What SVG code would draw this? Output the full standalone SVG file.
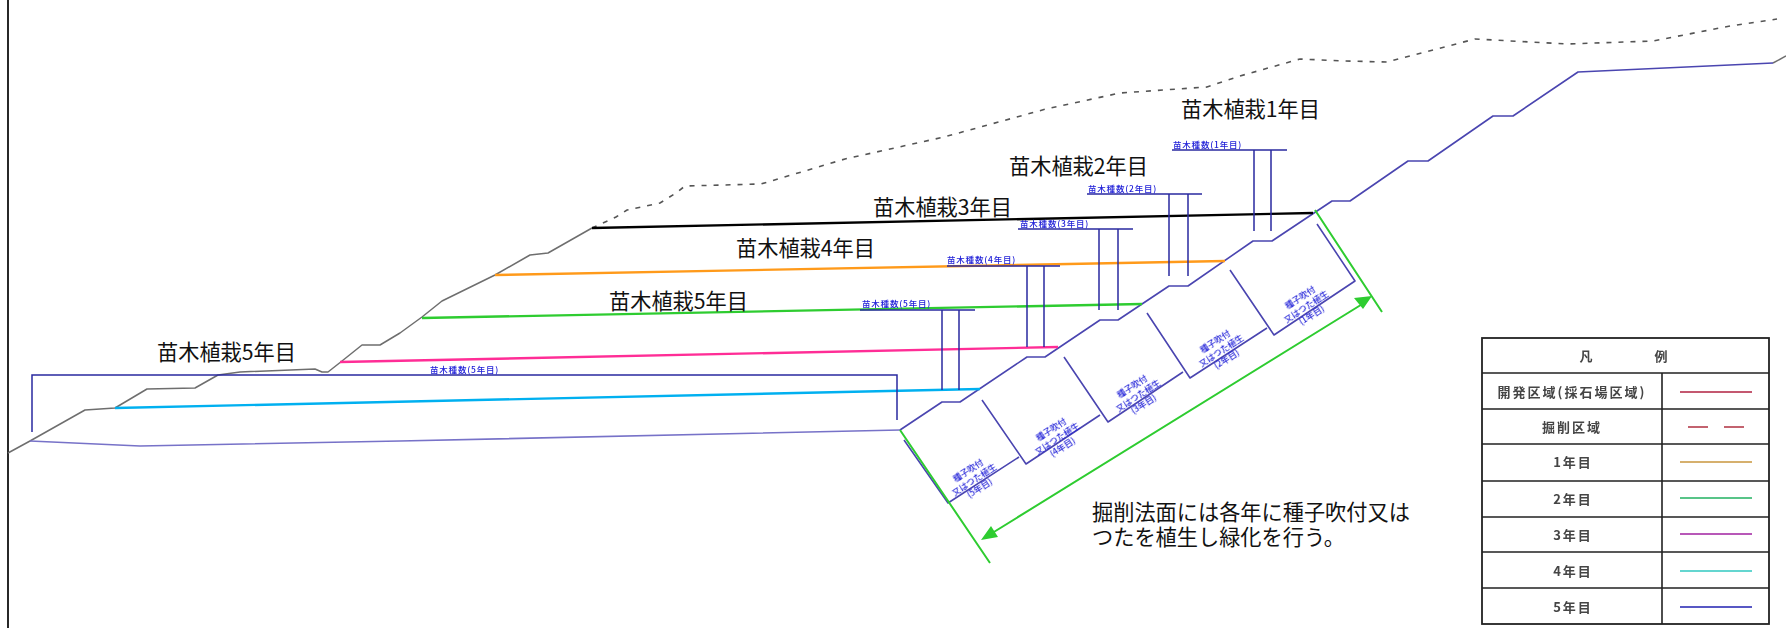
<svg xmlns="http://www.w3.org/2000/svg" width="1786" height="628" viewBox="0 0 1786 628">
<defs><filter id="soft" x="-5%" y="-20%" width="110%" height="140%"><feGaussianBlur stdDeviation="0.35"/></filter></defs>
<style>
text{font-family:"Noto Sans CJK JP","Liberation Sans",sans-serif}
.l{fill:#111;font-size:21.2px}
.s{fill:#2020d8;font-size:8.5px;letter-spacing:.8px;font-weight:500;filter:url(#soft)}
.r{fill:#2020d8;font-size:8.5px;text-anchor:middle;font-weight:500;filter:url(#soft)}
.g{fill:none;stroke:#6e6e6e;stroke-width:1.5;stroke-linejoin:round}
.d{fill:none;stroke:#555;stroke-width:1.6;stroke-dasharray:5 7}
.b{fill:none;stroke:#4a45b0;stroke-width:1.6;stroke-linejoin:round}
.p{fill:none;stroke:#7772c8;stroke-width:1.6;stroke-linejoin:round}
.n{fill:none;stroke:#2a2aa0;stroke-width:1.5}
.y{fill:none;stroke-width:2.4}
.gr{fill:none;stroke:#2ecc30;stroke-width:2}
.k{fill:none;stroke:#111;stroke-width:1.8}
.t{fill:#444;font-size:13px;text-anchor:middle;font-weight:700;letter-spacing:2px;filter:url(#soft)}
.m{fill:none;stroke-width:1.6}
</style>
<rect width="1786" height="628" fill="#fff"/>
<g id="frame"><path class="k" d="M8 0V628"/></g>
<g id="terrain">
<path class="g" d="M8 453L30 441L85 410L115 408L147 389L195 388L218 375L240 372L315 369L322 372L328 372L342 361L362 345L380 345L400 333L422 317L442 301L495 275L530 255L548 253L592 228"/>
<path class="d" d="M592 228L616 217L627 210L660 203L676 193L685 186L761 184L845 159L944 137L1046 109L1120 93L1207 87L1240 76L1300 59L1345 61L1387 62L1475 39L1567 44L1653 41L1730 26L1777 19"/>
<path class="g" d="M1773 63L1786 56"/>
</g>
<g id="excavation">
<path class="p" d="M30 441L140 446L400 441L900 430"/>
<path class="b" d="M900 430L942 402L960 402L1027 357L1045 357L1100 320L1118 320L1169 286L1188 286L1253 241L1272 241L1332 201L1350 201L1408 161L1428 161L1493 116L1513 116L1578 72L1773 63"/>
<path class="b" d="M904 440L948 503L1019 457M982 400L1026 464L1100 415M1064 357L1108 422L1183 372M1147 313L1190 378L1267 328M1230 270L1274 335L1355 281L1317 224"/>
</g>
<g id="planting-lines">
<path class="y" stroke="#00b0f0" d="M115 408L980 389"/>
<path class="y" stroke="#ff2d96" d="M340 362L1058 347"/>
<path class="y" stroke="#2ecc30" d="M422 318L1142 304"/>
<path class="y" stroke="#ff9a1a" d="M495 275L1225 261"/>
<path class="y" stroke="#000" d="M592 228L1313 213"/>
</g>
<g id="dimensions">
<path class="n" d="M32 432V375H897V420"/>
<path class="n" d="M860 310H975M942 310V390M959 310V390"/>
<path class="n" d="M947 266H1060M1027 266V347M1044 266V347"/>
<path class="n" d="M1018 229H1133M1099 229V310M1118 229V310"/>
<path class="n" d="M1087 194H1202M1169 194V276M1188 194V276"/>
<path class="n" d="M1172 150H1287M1254 150V231M1271 150V231"/>
<text class="s" x="430" y="373">苗木種数(5年目)</text>
<text class="s" x="862" y="307">苗木種数(5年目)</text>
<text class="s" x="947" y="263">苗木種数(4年目)</text>
<text class="s" x="1020" y="227">苗木種数(3年目)</text>
<text class="s" x="1088" y="192">苗木種数(2年目)</text>
<text class="s" x="1173" y="148">苗木種数(1年目)</text>
</g>
<g id="slope-extent">
<path class="gr" d="M900 430L990 563M1315 210L1382 312M989 535L1364 303"/>
<path fill="#2ecc30" d="M981 540L991 526L998 537ZM1372 296L1354 298L1363 309Z"/>
</g>
<g id="slope-labels">
<g transform="translate(973 478) rotate(-33)"><text class="r" y="-6">種子吹付</text><text class="r" y="5">又はつた植生</text><text class="r" y="15">(5年目)</text></g>
<g transform="translate(1056 437) rotate(-33)"><text class="r" y="-6">種子吹付</text><text class="r" y="5">又はつた植生</text><text class="r" y="15">(4年目)</text></g>
<g transform="translate(1137 394) rotate(-33)"><text class="r" y="-6">種子吹付</text><text class="r" y="5">又はつた植生</text><text class="r" y="15">(3年目)</text></g>
<g transform="translate(1220 349) rotate(-33)"><text class="r" y="-6">種子吹付</text><text class="r" y="5">又はつた植生</text><text class="r" y="15">(2年目)</text></g>
<g transform="translate(1305 305) rotate(-33)"><text class="r" y="-6">種子吹付</text><text class="r" y="5">又はつた植生</text><text class="r" y="15">(1年目)</text></g>
</g>
<g id="labels">
<text class="l" x="157" y="360">苗木植栽5年目</text>
<text class="l" x="609" y="309">苗木植栽5年目</text>
<text class="l" x="736" y="256">苗木植栽4年目</text>
<text class="l" x="873" y="215">苗木植栽3年目</text>
<text class="l" x="1009" y="174">苗木植栽2年目</text>
<text class="l" x="1181" y="117">苗木植栽1年目</text>
<text class="l" x="1092" y="520">掘削法面には各年に種子吹付又は</text>
<text class="l" x="1092" y="545">つたを植生し緑化を行う。</text>
</g>
<g id="legend">
<rect x="1482" y="338" width="287" height="286" fill="#fff" stroke="#222" stroke-width="1.8"/>
<path fill="none" stroke="#222" stroke-width="1.6" d="M1482 373H1769M1482 409H1769M1482 444H1769M1482 481H1769M1482 517H1769M1482 552H1769M1482 588H1769M1662 373V624"/>
<text class="t" x="1587" y="361">凡</text><text class="t" x="1662" y="361">例</text>
<text class="t" x="1572" y="397">開発区域(採石場区域)</text>
<text class="t" x="1572" y="432">掘削区域</text>
<text class="t" x="1573" y="467">1年目</text>
<text class="t" x="1573" y="504">2年目</text>
<text class="t" x="1573" y="540">3年目</text>
<text class="t" x="1573" y="576">4年目</text>
<text class="t" x="1573" y="612">5年目</text>
<path class="m" stroke="#b02040" d="M1680 392H1752"/>
<path class="m" stroke="#b03040" d="M1688 427H1708M1724 427H1744"/>
<path class="m" stroke="#c8963c" d="M1680 462H1752"/>
<path class="m" stroke="#20b060" d="M1680 498H1752"/>
<path class="m" stroke="#a020a0" d="M1680 534H1752"/>
<path class="m" stroke="#30c8c0" d="M1680 571H1752"/>
<path class="m" stroke="#2020b0" d="M1680 607H1752"/>
</g>
</svg>
